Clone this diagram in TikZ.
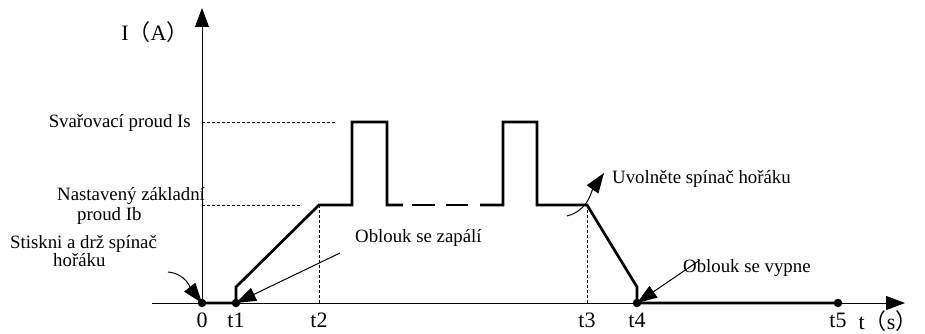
\documentclass[tikz,border=0pt]{standalone}
\usepackage{fontspec}
\setmainfont{Liberation Serif}
\newfontfamily\cjk{Noto Sans CJK SC}
\usetikzlibrary{arrows.meta}
\begin{document}
\begin{tikzpicture}[x=1pt,y=-1pt,
 axis/.style={line width=0.9pt,-{Triangle[length=19pt,width=14pt]}},
 sig/.style={line width=2.7pt, line join=miter},
 guide/.style={line width=0.9pt, dash pattern=on 3pt off 2pt},
 ann/.style={line width=1pt,-{Triangle[length=20pt,width=14pt]}},
 lbl/.style={font=\fontsize{18.8}{20}\selectfont, inner sep=0pt},
 ticklbl/.style={font=\fontsize{22}{24}\selectfont, inner sep=0pt, anchor=base},
 dotnode/.style={circle, fill, inner sep=0pt, minimum size=8.5pt}]
\useasboundingbox (0,0) rectangle (925,334);

% axes
\coordinate (xs) at (152,303);
\coordinate (xe) at (905,303);
\coordinate (o) at (202,303);
\coordinate (ye) at (202,8);
\draw[axis] (xs) -- (xe);
\draw[axis] (o) -- (ye);

% key points
\coordinate (t1b) at (236,303);
\coordinate (t1u) at (236,287);
\coordinate (t2) at (319,205);
\coordinate (t2b) at (319,303);
\coordinate (p1a) at (352,205);
\coordinate (p1b) at (352,122);
\coordinate (p1c) at (387,122);
\coordinate (p1d) at (387,205);
\coordinate (d0) at (403,205);
\coordinate (d1a) at (412,205);
\coordinate (d1b) at (435,205);
\coordinate (d2a) at (446,205);
\coordinate (d2b) at (468,205);
\coordinate (d3a) at (480,205);
\coordinate (p2a) at (503,205);
\coordinate (p2b) at (503,122);
\coordinate (p2c) at (537,122);
\coordinate (p2d) at (537,205);
\coordinate (t3) at (587,205);
\coordinate (t3b) at (587,303);
\coordinate (t4u) at (637,287);
\coordinate (t4b) at (637,303);
\coordinate (t5b) at (838,303);

% guide lines
\coordinate (isy) at (202,122);
\coordinate (ise) at (336,122);
\coordinate (iby) at (202,205);
\coordinate (ibe) at (302,205);
\draw[guide] (isy) -- (ise);
\draw[guide] (iby) -- (ibe);
\draw[guide] (t2) -- (t2b);
\draw[guide] (t3) -- (t3b);

% signal
\draw[sig] (o) -- (t1b) -- (t1u) -- (t2) -- (p1a) -- (p1b) -- (p1c) -- (p1d) -- (d0);
\draw[sig] (d1a) -- (d1b);
\draw[sig] (d2a) -- (d2b);
\draw[sig] (d3a) -- (p2a) -- (p2b) -- (p2c) -- (p2d) -- (t3) -- (t4u) -- (t4b) -- (t5b);

% dots
\node[dotnode] (n0) at (o) {};
\node[dotnode] (n1) at (t1b) {};
\node[dotnode] (n4) at (t4b) {};
\node[dotnode] (n5) at (t5b) {};

% axis labels
\node[ticklbl, anchor=base] (ya) at (155,41) {I{\cjk（}A{\cjk）}};
\node[ticklbl, anchor=base] (xa) at (888,329) {t{\cjk（}s{\cjk）}};
\node[ticklbl] (l0) at (202,327) {0};
\node[ticklbl] (l1) at (236,327) {t1};
\node[ticklbl] (l2) at (319,327) {t2};
\node[ticklbl] (l3) at (587,327) {t3};
\node[ticklbl] (l4) at (637,327) {t4};
\node[ticklbl] (l5) at (838,327) {t5};

% text labels
\node[lbl, anchor=base east] (is) at (191,128) {Svařovací proud Is};
\node[lbl, anchor=base west] (ib1) at (57,200) {Nastavený základní};
\node[lbl, anchor=base west] (ib2) at (77,220) {proud Ib};
\node[lbl, anchor=base west] (st1) at (10,248) {Stiskni a drž spínač};
\node[lbl, anchor=base west] (st2) at (53,266) {hořáku};
\node[lbl, anchor=base west] (zap) at (355,242) {Oblouk se zapálí};
\node[lbl, anchor=base west] (uvo) at (612,183) {Uvolněte spínač hořáku};
\node[lbl, anchor=base west] (vyp) at (683,272) {Oblouk se vypne};

% annotation arrows
\coordinate (a1s) at (168,272);
\coordinate (a2s) at (340,253);
\coordinate (a3s) at (567,216);
\coordinate (a3e) at (604,173);
\coordinate (a4s) at (700,260);
\draw[ann] (a1s) to[out=-5,in=128] (n0.center);
\draw[ann] (a2s) -- (n1.center);
\draw[ann] (a3s) to[out=15,in=-125] (a3e);
\draw[ann] (a4s) -- (n4.center);
\end{tikzpicture}
\end{document}
